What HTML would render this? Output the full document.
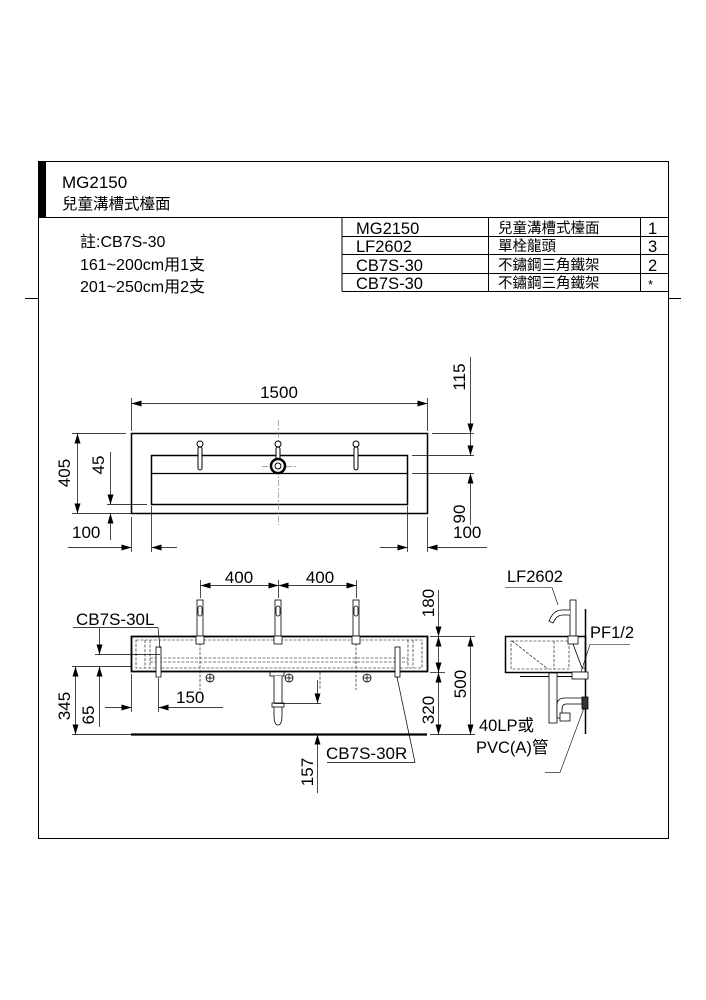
<!DOCTYPE html>
<html><head><meta charset="utf-8"><style>
html,body{margin:0;padding:0;background:#fff;}
svg{display:block;}
text{font-family:"Liberation Sans","Noto Sans CJK TC",sans-serif;fill:#000;}
</style></head><body>
<svg width="706" height="1000" viewBox="0 0 706 1000" xmlns="http://www.w3.org/2000/svg">
<defs>
<marker id="a" viewBox="0 0 10 6" refX="10" refY="3" markerWidth="10" markerHeight="6" orient="auto-start-reverse" markerUnits="userSpaceOnUse"><path d="M0,0 L10,3 L0,6 z" fill="#000"/></marker>
</defs>
<rect x="38.5" y="161.5" width="630" height="677" fill="none" stroke="#000" stroke-width="1"/>
<rect x="38" y="161" width="8" height="56" fill="#000"/>
<line x1="38" y1="217.5" x2="668" y2="217.5" stroke="#000"/>
<line x1="25" y1="298.5" x2="38" y2="298.5" stroke="#000"/>
<line x1="668" y1="298.5" x2="681" y2="298.5" stroke="#000"/>
<text x="62" y="188" font-size="17">MG2150</text>
<text x="62" y="209" font-size="15.5">兒童溝槽式檯面</text>
<text x="80" y="247" font-size="16">註:CB7S-30</text>
<text x="80" y="270" font-size="16">161~200cm用1支</text>
<text x="80" y="292" font-size="16">201~250cm用2支</text>
<g stroke="#000" stroke-width="1">
<line x1="342" y1="217.5" x2="342" y2="291.5"/>
<line x1="488.5" y1="217.5" x2="488.5" y2="291.5"/>
<line x1="640.5" y1="217.5" x2="640.5" y2="291.5"/>
<line x1="342" y1="236.5" x2="668" y2="236.5"/>
<line x1="342" y1="254.5" x2="668" y2="254.5"/>
<line x1="342" y1="273.5" x2="668" y2="273.5"/>
<line x1="342" y1="291.5" x2="668" y2="291.5"/>
</g>
<g font-size="16.5">
<text x="356" y="234">MG2150</text><text x="356" y="252">LF2602</text>
<text x="356" y="271">CB7S-30</text><text x="356" y="289">CB7S-30</text>
<text x="648" y="234">1</text><text x="648" y="252">3</text><text x="648" y="271">2</text><text x="648" y="289" font-size="13">*</text>
</g>
<g font-size="14.5">
<text x="498" y="233">兒童溝槽式檯面</text><text x="498" y="251">單栓龍頭</text>
<text x="498" y="270">不鏽鋼三角鐵架</text><text x="498" y="288">不鏽鋼三角鐵架</text>
</g>

<g stroke="#000" fill="none">
<rect x="131.5" y="433.5" width="296" height="80" stroke-width="1.5"/>
<rect x="151.5" y="455.5" width="256" height="49" stroke-width="1.5"/>
<line x1="151" y1="473.5" x2="407" y2="473.5" stroke-width="1.2"/>
<line x1="278.5" y1="420" x2="278.5" y2="525" stroke="#888" stroke-width="0.7" stroke-dasharray="6,2,2,2"/>
<line x1="262" y1="466.5" x2="296" y2="466.5" stroke="#888" stroke-width="0.7" stroke-dasharray="6,2,2,2"/>
</g>
<g stroke="#000" fill="#fff" stroke-width="1">
<rect x="198" y="447" width="4" height="23" rx="2"/><circle cx="200" cy="444" r="3"/>
<rect x="276" y="447" width="4" height="14" rx="2"/><circle cx="278" cy="444" r="3"/>
<rect x="354" y="447" width="4" height="23" rx="2"/><circle cx="356" cy="444" r="3"/>
<circle cx="278" cy="466" r="7" stroke-width="2.5"/><circle cx="278" cy="466" r="3"/>
</g>
<g stroke="#000" stroke-width="0.7" fill="none">
<line x1="131.5" y1="398" x2="131.5" y2="431"/><line x1="427.5" y1="398" x2="427.5" y2="431"/>
<line x1="131.5" y1="403.5" x2="427.5" y2="403.5" marker-start="url(#a)" marker-end="url(#a)"/>
<line x1="72" y1="433.5" x2="126" y2="433.5"/><line x1="72" y1="513.5" x2="131" y2="513.5"/>
<line x1="77.5" y1="433.5" x2="77.5" y2="513.5" marker-start="url(#a)" marker-end="url(#a)"/>
<line x1="107" y1="504.5" x2="147" y2="504.5"/>
<line x1="110.5" y1="452" x2="110.5" y2="504.5" marker-end="url(#a)"/>
<line x1="110.5" y1="540" x2="110.5" y2="513.5" marker-end="url(#a)"/>
<line x1="131.5" y1="517" x2="131.5" y2="552"/><line x1="151.5" y1="506" x2="151.5" y2="552"/>
<line x1="68" y1="547.5" x2="131.5" y2="547.5" marker-end="url(#a)"/>
<line x1="177" y1="547.5" x2="151.5" y2="547.5" marker-end="url(#a)"/>
<line x1="407.5" y1="506" x2="407.5" y2="552"/><line x1="427.5" y1="517" x2="427.5" y2="552"/>
<line x1="380" y1="547.5" x2="407.5" y2="547.5" marker-end="url(#a)"/>
<line x1="487" y1="547.5" x2="427.5" y2="547.5" marker-end="url(#a)"/>
<line x1="432" y1="433.5" x2="474" y2="433.5"/>
<line x1="412" y1="455.5" x2="474" y2="455.5"/>
<line x1="412" y1="473.5" x2="474" y2="473.5"/>
<line x1="470.5" y1="357" x2="470.5" y2="433.5" marker-end="url(#a)"/>
<line x1="470.5" y1="433.5" x2="470.5" y2="455.5" marker-end="url(#a)"/>
<line x1="470.5" y1="525" x2="470.5" y2="473.5" marker-end="url(#a)"/>
</g>
<g font-size="17">
<text x="279" y="398" text-anchor="middle">1500</text>
<text x="72" y="538">100</text>
<text x="453" y="538">100</text>
<text transform="translate(70,473) rotate(-90)" text-anchor="middle">405</text>
<text transform="translate(104,465) rotate(-90)" text-anchor="middle">45</text>
<text transform="translate(465,377) rotate(-90)" text-anchor="middle">115</text>
<text transform="translate(465,514) rotate(-90)" text-anchor="middle">90</text>
</g>

<g stroke="#000" fill="none">
<rect x="131.5" y="636.5" width="296" height="35" stroke-width="1.8"/>
<line x1="131" y1="734.5" x2="427" y2="734.5" stroke-width="2.2"/>
<g stroke-width="0.6" stroke-dasharray="3,1.5">
<rect x="136" y="640" width="286" height="28"/>
<line x1="145" y1="640" x2="145" y2="668"/><line x1="150" y1="640" x2="150" y2="668"/>
<line x1="408" y1="640" x2="408" y2="668"/><line x1="413" y1="640" x2="413" y2="668"/>
<line x1="150" y1="658" x2="408" y2="658"/><line x1="150" y1="662" x2="408" y2="662"/>
<line x1="200" y1="643" x2="200" y2="690"/><line x1="356" y1="643" x2="356" y2="690"/>
<line x1="320" y1="672" x2="320" y2="690"/>
</g>
</g>
<g stroke="#000" fill="#fff" stroke-width="0.8">
<rect x="197" y="600" width="6" height="36"/><rect x="198" y="606" width="4" height="10" rx="2"/><rect x="196" y="636" width="8" height="8"/>
<rect x="275" y="600" width="6" height="36"/><rect x="276" y="606" width="4" height="10" rx="2"/><rect x="274" y="636" width="8" height="8"/>
<rect x="353" y="600" width="6" height="36"/><rect x="354" y="606" width="4" height="10" rx="2"/><rect x="352" y="636" width="8" height="8"/>
<rect x="156" y="647" width="5" height="30"/>
<rect x="395" y="647" width="5" height="30"/>
<rect x="270" y="672" width="14" height="4"/>
<path d="M274,676 V715 Q274,725 278,725 Q282,725 282,715 V676" />
<rect x="272" y="703" width="12" height="4"/>
<circle cx="210" cy="678" r="4"/><circle cx="289" cy="678" r="4"/><circle cx="367" cy="678" r="4"/>
<path d="M210,674v8M206,678h8M289,674v8M285,678h8M367,674v8M363,678h8"/>
</g>
<g stroke="#000" stroke-width="0.7" fill="none">
<line x1="200.5" y1="580" x2="200.5" y2="598"/><line x1="278.5" y1="580" x2="278.5" y2="598"/><line x1="356.5" y1="580" x2="356.5" y2="598"/>
<line x1="200.5" y1="585.5" x2="278.5" y2="585.5" marker-start="url(#a)" marker-end="url(#a)"/>
<line x1="278.5" y1="585.5" x2="356.5" y2="585.5" marker-start="url(#a)" marker-end="url(#a)"/>
<line x1="73" y1="627.5" x2="158" y2="627.5"/><line x1="158" y1="627.5" x2="160" y2="648"/>
<line x1="95" y1="654.5" x2="160" y2="654.5"/>
<line x1="72" y1="666.5" x2="131" y2="666.5"/>
<line x1="72" y1="734.5" x2="131" y2="734.5"/>
<line x1="99.5" y1="628" x2="99.5" y2="654.5" marker-end="url(#a)"/>
<line x1="99.5" y1="727" x2="99.5" y2="666.5" marker-end="url(#a)"/>
<line x1="75.5" y1="666.5" x2="75.5" y2="734.5" marker-start="url(#a)" marker-end="url(#a)"/>
<line x1="131.5" y1="674" x2="131.5" y2="712"/><line x1="158.5" y1="678" x2="158.5" y2="712"/>
<line x1="105" y1="707.5" x2="131.5" y2="707.5" marker-end="url(#a)"/>
<line x1="223" y1="707.5" x2="158.5" y2="707.5" marker-end="url(#a)"/>
<line x1="430" y1="636.5" x2="475" y2="636.5"/>
<line x1="430" y1="672.5" x2="445" y2="672.5"/>
<line x1="430" y1="734.5" x2="475" y2="734.5"/>
<line x1="438.5" y1="590" x2="438.5" y2="636.5" marker-end="url(#a)"/>
<line x1="438.5" y1="636.5" x2="438.5" y2="672.5" marker-start="url(#a)" marker-end="url(#a)"/>
<line x1="438.5" y1="672.5" x2="438.5" y2="734.5" marker-start="url(#a)" marker-end="url(#a)"/>
<line x1="470.5" y1="636.5" x2="470.5" y2="734.5" marker-start="url(#a)" marker-end="url(#a)"/>
<line x1="274" y1="703.5" x2="321" y2="703.5"/>
<line x1="317.5" y1="680" x2="317.5" y2="703.5" marker-end="url(#a)"/>
<line x1="317.5" y1="793" x2="317.5" y2="734.5" marker-end="url(#a)"/>
<line x1="327" y1="762.5" x2="415" y2="762.5"/><line x1="415" y1="762.5" x2="397" y2="677"/>
</g>
<g font-size="17">
<text x="239" y="583" text-anchor="middle">400</text>
<text x="320" y="583" text-anchor="middle">400</text>
<text x="76" y="625">CB7S-30L</text>
<text x="176" y="703">150</text>
<text x="326" y="759">CB7S-30R</text>
<text transform="translate(70,706) rotate(-90)" text-anchor="middle">345</text>
<text transform="translate(94,715) rotate(-90)" text-anchor="middle">65</text>
<text transform="translate(434,603) rotate(-90)" text-anchor="middle">180</text>
<text transform="translate(434,710) rotate(-90)" text-anchor="middle">320</text>
<text transform="translate(466,684) rotate(-90)" text-anchor="middle">500</text>
<text transform="translate(313,772) rotate(-90)" text-anchor="middle">157</text>
</g>

<g stroke="#000" fill="none">
<rect x="505.5" y="636.5" width="80" height="36" stroke-width="1.5"/>
<line x1="585.5" y1="609" x2="585.5" y2="734" stroke-width="1.5"/>
<line x1="520" y1="676.5" x2="585" y2="676.5" stroke-width="1"/>
<g stroke-width="0.6" stroke-dasharray="3,1.5">
<rect x="511" y="641" width="58" height="28"/>
<line x1="512" y1="641" x2="548" y2="669"/>
<line x1="554" y1="641" x2="554" y2="669"/>
</g>
<g stroke-width="0.8" fill="#fff">
<rect x="570" y="600" width="6" height="36"/>
<path d="M570,610 H562 Q555,610 551,617 L549,621 L553,623 L556,618 Q559,615 563,615 H570"/>
<rect x="568" y="636" width="10" height="8"/>
<path d="M573,644 L582,668 L585,668"/>
<rect x="572" y="672" width="16" height="7"/>
<rect x="549" y="673" width="8" height="50"/>
<path d="M557,718 V705 Q557,698 565,698 H582 V704 H566 Q562,704 562,710 V718 Z"/>
<rect x="560" y="713" width="10" height="8"/>
<rect x="582" y="697" width="6" height="12" fill="#333"/>
</g>
</g>
<g stroke="#000" stroke-width="0.6" fill="none">
<line x1="505" y1="587.5" x2="552" y2="587.5"/><line x1="552" y1="587.5" x2="558" y2="605"/>
<line x1="590" y1="644.5" x2="630" y2="644.5"/><line x1="590" y1="644.5" x2="581" y2="672"/>
<line x1="545" y1="772.5" x2="560" y2="772.5"/><line x1="560" y1="772.5" x2="584" y2="708"/>
</g>
<g font-size="16.5">
<text x="507" y="582">LF2602</text>
<text x="590" y="638">PF1/2</text>
<text x="479" y="731">40LP或</text>
<text x="476" y="753">PVC(A)管</text>
</g>
</svg>
</body></html>
